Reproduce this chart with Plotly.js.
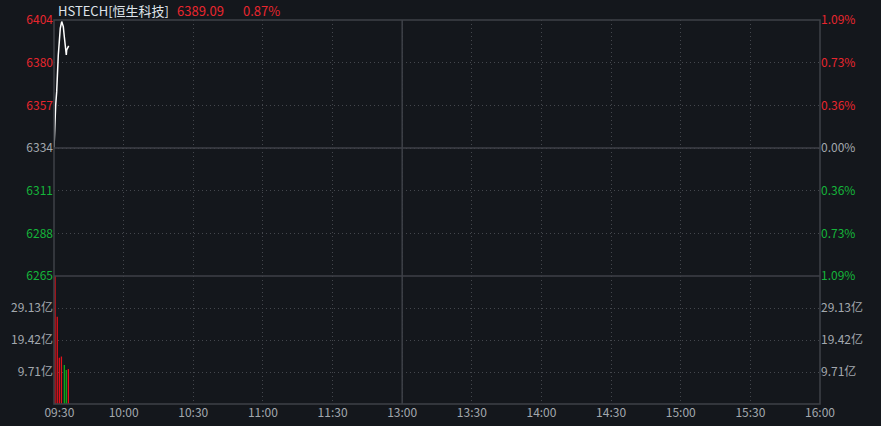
<!DOCTYPE html>
<html>
<head>
<meta charset="utf-8">
<script src="https://cdn.plot.ly/plotly-3.0.1.min.js"></script>
<style>
  html, body { margin: 0; padding: 0; background: #14171c; }
  #graphDiv { width: 881px; height: 426px; }
</style>
</head>
<body>
<div id="graphDiv"></div>
<script>
// intraday minutes from 09:30 (lunch break removed)
var lineMin = [0, 0.3, 0.73, 1.16, 1.42, 1.85, 2.28, 2.71, 3.32, 4.01, 4.44, 4.87, 5.3, 5.47, 5.9, 6.33];
var linePrice = [6333.8, 6346.4, 6357.2, 6364.4, 6373.4, 6384.2, 6391.3, 6398.6, 6402.2, 6399.5, 6394.0, 6389.6, 6384.2, 6386.9, 6387.8, 6389.09];

var barMin = [0.45, 1.4, 2.3, 3.2, 4.45, 5.3, 6.2];
var barVol = [40.0, 26.5, 14.0, 14.4, 11.8, 10.3, 10.6];   // 亿
var barDir = ['up', 'up', 'up', 'up', 'down', 'down', 'up'];

var timeTicks = [0, 30, 60, 90, 120, 150, 180, 210, 240, 270, 300, 330];
var timeLabels = ['\u00a0\u00a0\u00a0\u00a009:30', '10:00', '10:30', '11:00', '11:30', '13:00', '13:30', '14:00', '14:30', '15:00', '15:30', '16:00'];

var prevClose = 6334;
var priceTicks = [6403.04, 6380.03, 6357.01, 6334, 6310.99, 6287.97, 6264.96];
var priceLabels = ['6404', '6380', '6357', '6334', '6311', '6288', '6265'];
var pctLabels = ['1.09%', '0.73%', '0.36%', '0.00%', '0.36%', '0.73%', '1.09%'];
var volTicks = [9.71, 19.42, 29.13];
var volLabels = ['9.71亿', '19.42亿', '29.13亿'];

var RED = '#e8262e', GREEN = '#14b53a', GRAY = '#a3a8ae', GRID = '#44474d';

function colorTick(v, txt) {
  var c = v > prevClose + 0.5 ? RED : (v < prevClose - 0.5 ? GREEN : GRAY);
  return '<span style="color:' + c + '">' + txt + '</span>';
}

function initGraph()
{
  var priceLine = {
    x: lineMin,
    y: linePrice,
    xaxis: 'x', yaxis: 'y',
    mode: 'lines',
    line: {color: '#ffffff', width: 1.5},
    hoverinfo: 'skip',
    type: 'scatter'
  };
  var pctDummy = {
    x: [0], y: [prevClose], xaxis: 'x', yaxis: 'y3',
    mode: 'markers', marker: {opacity: 0}, hoverinfo: 'skip', type: 'scatter'
  };
  var volBars = {
    x: barMin,
    y: barVol,
    xaxis: 'x', yaxis: 'y2',
    width: 0.55,
    marker: {color: barDir.map(function (d) { return d === 'up' ? '#e3121b' : '#0fb01c'; }), line: {width: 0}},
    hoverinfo: 'skip',
    type: 'bar'
  };
  var volDummy = {
    x: [0], y: [0], xaxis: 'x', yaxis: 'y4',
    mode: 'markers', marker: {opacity: 0}, hoverinfo: 'skip', type: 'scatter'
  };

  var split = 128 / 384;
  var tickFont = {family: '"Noto Sans CJK SC", "Noto Sans", sans-serif', size: 12, color: GRAY};
  var dots = '1px,3px';

  var layout = {
    width: 881,
    height: 426,
    paper_bgcolor: '#14171c',
    plot_bgcolor: '#14171c',
    showlegend: false,
    margin: {l: 54, r: 61, t: 20, b: 22},
    xaxis: {
      range: [0, 330],
      anchor: 'y2',
      tickvals: timeTicks,
      ticktext: timeLabels,
      tickfont: tickFont,
      ticks: '',
      showgrid: true, gridcolor: GRID, griddash: dots, gridwidth: 1,
      zeroline: false, showline: false, fixedrange: true
    },
    yaxis: {
      domain: [split, 1],
      range: [priceTicks[6], priceTicks[0]],
      tickvals: priceTicks,
      ticktext: priceTicks.map(function (v, i) { return colorTick(v, priceLabels[i]); }),
      tickfont: tickFont,
      ticks: '',
      showgrid: true, gridcolor: GRID, griddash: dots,
      zeroline: false, fixedrange: true
    },
    yaxis3: {
      overlaying: 'y',
      side: 'right',
      range: [priceTicks[6], priceTicks[0]],
      tickvals: priceTicks,
      ticktext: priceTicks.map(function (v, i) { return colorTick(v, pctLabels[i]); }),
      tickfont: tickFont,
      ticks: '',
      showgrid: false, zeroline: false, fixedrange: true
    },
    yaxis2: {
      domain: [0, split],
      range: [0, 38.84],
      tickvals: volTicks,
      ticktext: volLabels,
      tickfont: tickFont,
      ticks: '',
      showgrid: true, gridcolor: GRID, griddash: dots,
      zeroline: false, fixedrange: true
    },
    yaxis4: {
      overlaying: 'y2',
      side: 'right',
      range: [0, 38.84],
      tickvals: volTicks,
      ticktext: volLabels,
      tickfont: tickFont,
      ticks: '',
      showgrid: false, zeroline: false, fixedrange: true
    },
    shapes: [
      {type: 'rect', xref: 'paper', yref: 'paper', x0: 0, x1: 1, y0: 0, y1: 1,
       line: {color: '#3e4147', width: 1.5}},
      {type: 'line', xref: 'paper', yref: 'paper', x0: 0, x1: 1, y0: split, y1: split,
       line: {color: '#3e4147', width: 1.5}},
      {type: 'line', xref: 'paper', yref: 'y', x0: 0, x1: 1, y0: prevClose, y1: prevClose,
       line: {color: '#3e4147', width: 1.5}},
      {type: 'line', xref: 'x', yref: 'paper', x0: 150, x1: 150, y0: 0, y1: 1,
       line: {color: '#3e4147', width: 1.5}}
    ],
    annotations: [
      {xref: 'paper', yref: 'paper', x: 0, y: 1, xshift: 2, yshift: 10,
       xanchor: 'left', yanchor: 'middle', showarrow: false,
       text: 'HSTECH[恒生科技]',
       font: {family: '"Noto Sans CJK SC", sans-serif', size: 13, color: '#dfe4ea'}},
      {xref: 'paper', yref: 'paper', x: 0, y: 1, xshift: 121, yshift: 10,
       xanchor: 'left', yanchor: 'middle', showarrow: false,
       text: '6389.09',
       font: {family: '"Noto Sans CJK SC", sans-serif', size: 13, color: RED}},
      {xref: 'paper', yref: 'paper', x: 0, y: 1, xshift: 187, yshift: 10,
       xanchor: 'left', yanchor: 'middle', showarrow: false,
       text: '0.87%',
       font: {family: '"Noto Sans CJK SC", sans-serif', size: 13, color: RED}}
    ]
  };

  Plotly.newPlot('graphDiv', [volBars, volDummy, pctDummy, priceLine], layout, {displayModeBar: false, staticPlot: true});
}
initGraph();
</script>
</body>
</html>
